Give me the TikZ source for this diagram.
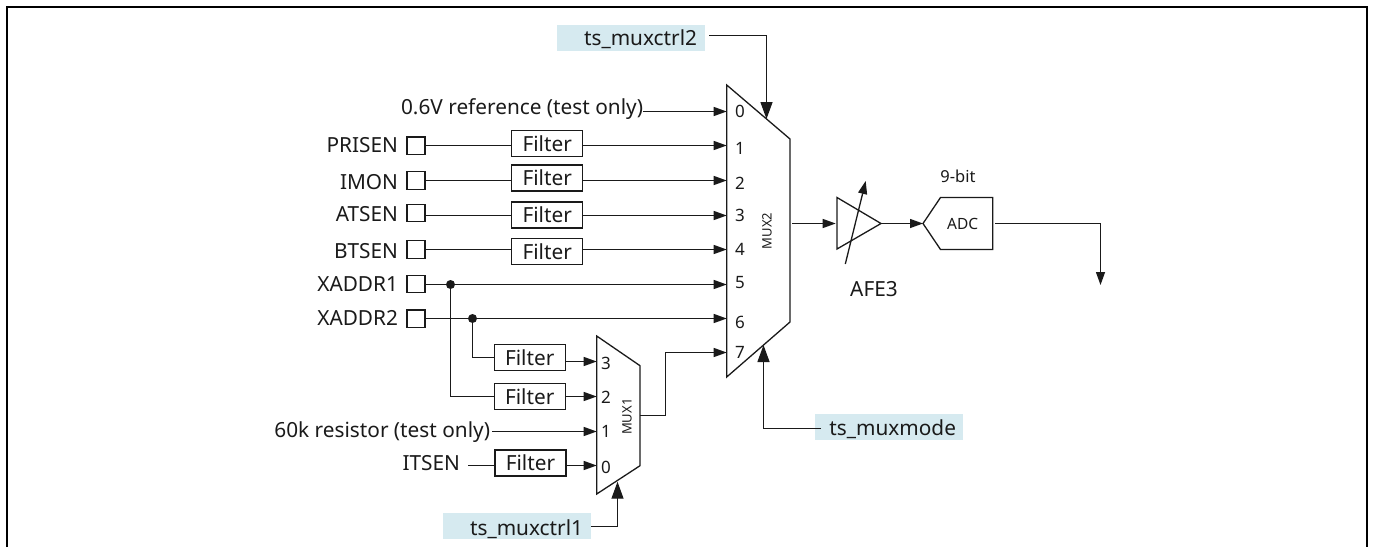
\documentclass[tikz,border=0pt]{standalone}
\usepackage{fontspec}
\setmainfont{Noto Sans}
\usetikzlibrary{arrows.meta}
\definecolor{sigbg}{HTML}{D6EAF0}
\definecolor{ink}{HTML}{1A1A1A}
\tikzset{
  x=1pt,y=-1pt,
  every node/.style={text=ink,inner sep=0pt,outer sep=0pt},
  wire/.style={draw=ink,line width=1.3pt},
  sig/.style={wire,-{Triangle[length=13pt,width=9pt]}},
  ctl/.style={wire,-{Triangle[length=17pt,width=12pt]}},
  lab/.style={font=\fontsize{20.8}{21}\selectfont,anchor=base east},
  num/.style={font=\fontsize{17}{17}\selectfont,anchor=base},
  pad/.style={draw=ink,line width=1.3pt,minimum width=18pt,minimum height=17.5pt},
  filt/.style={draw=ink,line width=1.3pt,minimum width=71pt,minimum height=26pt,font=\fontsize{20.8}{21}\selectfont},
  ctrlbg/.style={fill=sigbg,minimum width=148pt,minimum height=26pt},
  dot/.style={circle,fill=ink,minimum size=9pt},
  shp/.style={draw=ink,line width=1.3pt,line join=miter},
}
\begin{document}
\begin{tikzpicture}
\useasboundingbox (0,0) rectangle (1373,547);
% frame
\draw[draw=black,line width=2pt] (7.2,547) -- (7.2,6.8) -- (1366.8,6.8) -- (1366.8,547);

% MUX2
\draw[shp] (726.7,85) -- (790,139) -- (790,322) -- (726.7,377) -- cycle;
\coordinate (m2i0) at (726.7,111.5);
\coordinate (m2i1) at (726.7,145.5);
\coordinate (m2i2) at (726.7,180.5);
\coordinate (m2i3) at (726.7,215.5);
\coordinate (m2i4) at (726.7,249.5);
\coordinate (m2i5) at (726.7,284.5);
\coordinate (m2i6) at (726.7,318.5);
\coordinate (m2i7) at (726.7,352.5);
\coordinate (m2top) at (766.5,119);
\coordinate (m2bot) at (763.5,345);
\coordinate (m2out) at (792,223.5);
\node[num] at (740,117.3) {0};
\node[num] at (740,154) {1};
\node[num] at (740,189.3) {2};
\node[num] at (740,221.3) {3};
\node[num] at (740,255.3) {4};
\node[num] at (740,288.3) {5};
\node[num] at (740,328.3) {6};
\node[num] at (740,358.3) {7};
\node[font=\fontsize{13}{13}\selectfont,rotate=90] at (767,231) {MUX2};

% MUX1
\draw[shp] (596.7,336) -- (640,365.7) -- (640,465.7) -- (596.7,494) -- cycle;
\coordinate (m1i3) at (596.7,361.5);
\coordinate (m1i2) at (596.7,396.5);
\coordinate (m1i1) at (596.7,431.5);
\coordinate (m1i0) at (596.7,465.5);
\coordinate (m1bot) at (617.5,481.7);
\coordinate (m1out) at (640,415.5);
\node[num] at (606,369) {3};
\node[num] at (606,403.3) {2};
\node[num] at (606,437.7) {1};
\node[num] at (606,473.3) {0};
\node[font=\fontsize{13}{13}\selectfont,rotate=90] at (627,416.7) {MUX1};

% control signals
\node[ctrlbg] (c2) at (631,38) {};
\node[lab] at (697,45) {ts\_muxctrl2};
\node[ctrlbg] (cm) at (889,427) {};
\node[lab] at (956,435.7) {ts\_muxmode};
\node[ctrlbg] (c1) at (517,526) {};
\node[lab] at (583,535) {ts\_muxctrl1};
\draw[ctl] (709,35.5) -| (m2top);
\draw[ctl] (821,428.5) -| (m2bot);
\draw[ctl] (c1.east |- 0,526.5) -| (m1bot);

% pads + filters, inputs to MUX2
\node[lab] at (398,152.3) {PRISEN};
\node[lab] at (398,189.3) {IMON};
\node[lab] at (398,221.3) {ATSEN};
\node[lab] at (398,258.3) {BTSEN};
\node[lab] at (398,291.7) {XADDR1};
\node[lab] at (398,325.7) {XADDR2};
\node[pad] (p1) at (416,145.8) {};
\node[pad] (p2) at (416,180.5) {};
\node[pad] (p3) at (416,213) {};
\node[pad] (p4) at (416,249.5) {};
\node[pad] (p5) at (416,284) {};
\node[pad] (p6) at (416,318.7) {};
\node[filt] (f1) at (547.2,143.7) {Filter};
\node[filt] (f2) at (547.2,178) {Filter};
\node[filt] (f3) at (547.2,215) {Filter};
\node[filt] (f4) at (547.2,251.7) {Filter};
\draw[wire] (p1.east |- m2i1) -- (f1.west |- m2i1);
\draw[wire] (p2.east |- m2i2) -- (f2.west |- m2i2);
\draw[wire] (p3.east |- m2i3) -- (f3.west |- m2i3);
\draw[wire] (p4.east |- m2i4) -- (f4.west |- m2i4);
\draw[sig] (f1.east |- m2i1) -- (m2i1);
\draw[sig] (f2.east |- m2i2) -- (m2i2);
\draw[sig] (f3.east |- m2i3) -- (m2i3);
\draw[sig] (f4.east |- m2i4) -- (m2i4);
\node[lab] (ref) at (643,114) {0.6V reference (test only)};
\draw[sig] (ref.base east |- m2i0) -- (m2i0);
\draw[sig] (p5.east |- m2i5) -- (m2i5);
\draw[sig] (p6.east |- m2i6) -- (m2i6);
\node[dot] (j5) at (450.5,284.5) {};
\node[dot] (j6) at (472.5,318.5) {};

% inputs to MUX1
\node[filt] (f5) at (529.7,357.5) {Filter};
\node[filt] (f6) at (529.7,396.5) {Filter};
\node[filt] (f7) at (530.5,463) {Filter};
\draw[wire] (j6) |- (f5.west);
\draw[wire] (j5) |- (f6.west);
\draw[sig] (f5.east |- m1i3) -- (m1i3);
\draw[sig] (f6.east |- m1i2) -- (m1i2);
\node[lab] (r60) at (490,437.7) {60k resistor (test only)};
\draw[sig] (r60.base east |- m1i1) ++(2,0) -- (m1i1);
\node[lab] (its) at (460,470) {ITSEN};
\draw[wire] (468,465.5) -- (f7.west |- m1i0);
\draw[sig] (f7.east |- m1i0) -- (m1i0);
\draw[sig] (m1out) -- (665.5,415.5) -- (665.5,352.5) -- (m2i7);

% AFE and ADC
\draw[shp] (837,197.5) -- (881,223.5) -- (837,249) -- cycle;
\coordinate (ampin) at (835.7,223.5);
\coordinate (ampout) at (881,223.5);
\coordinate (adcin) at (923,223.5);
\coordinate (adcout) at (995,223.5);
\coordinate (gb) at (845.3,264);
\coordinate (gt) at (865.7,181);
\coordinate (dn) at (1100.5,285);
\draw[sig] (m2out) -- (ampin);
\draw[sig] (gb) -- (gt);
\draw[sig] (ampout) -- (adcin);
\draw[shp] (923,223.5) -- (940.5,197.5) -- (992.7,197.5) -- (992.7,249.5) -- (940.5,249.5) -- cycle;
\node[font=\fontsize{15.5}{16}\selectfont,anchor=base] at (962.7,229.3) {ADC};
\node[font=\fontsize{16.5}{17}\selectfont,anchor=base] at (958,182.3) {9-bit};
\node[font=\fontsize{20.8}{21}\selectfont,anchor=base] at (874,296) {AFE3};
\draw[sig] (adcout) -| (dn);
\end{tikzpicture}
\end{document}
